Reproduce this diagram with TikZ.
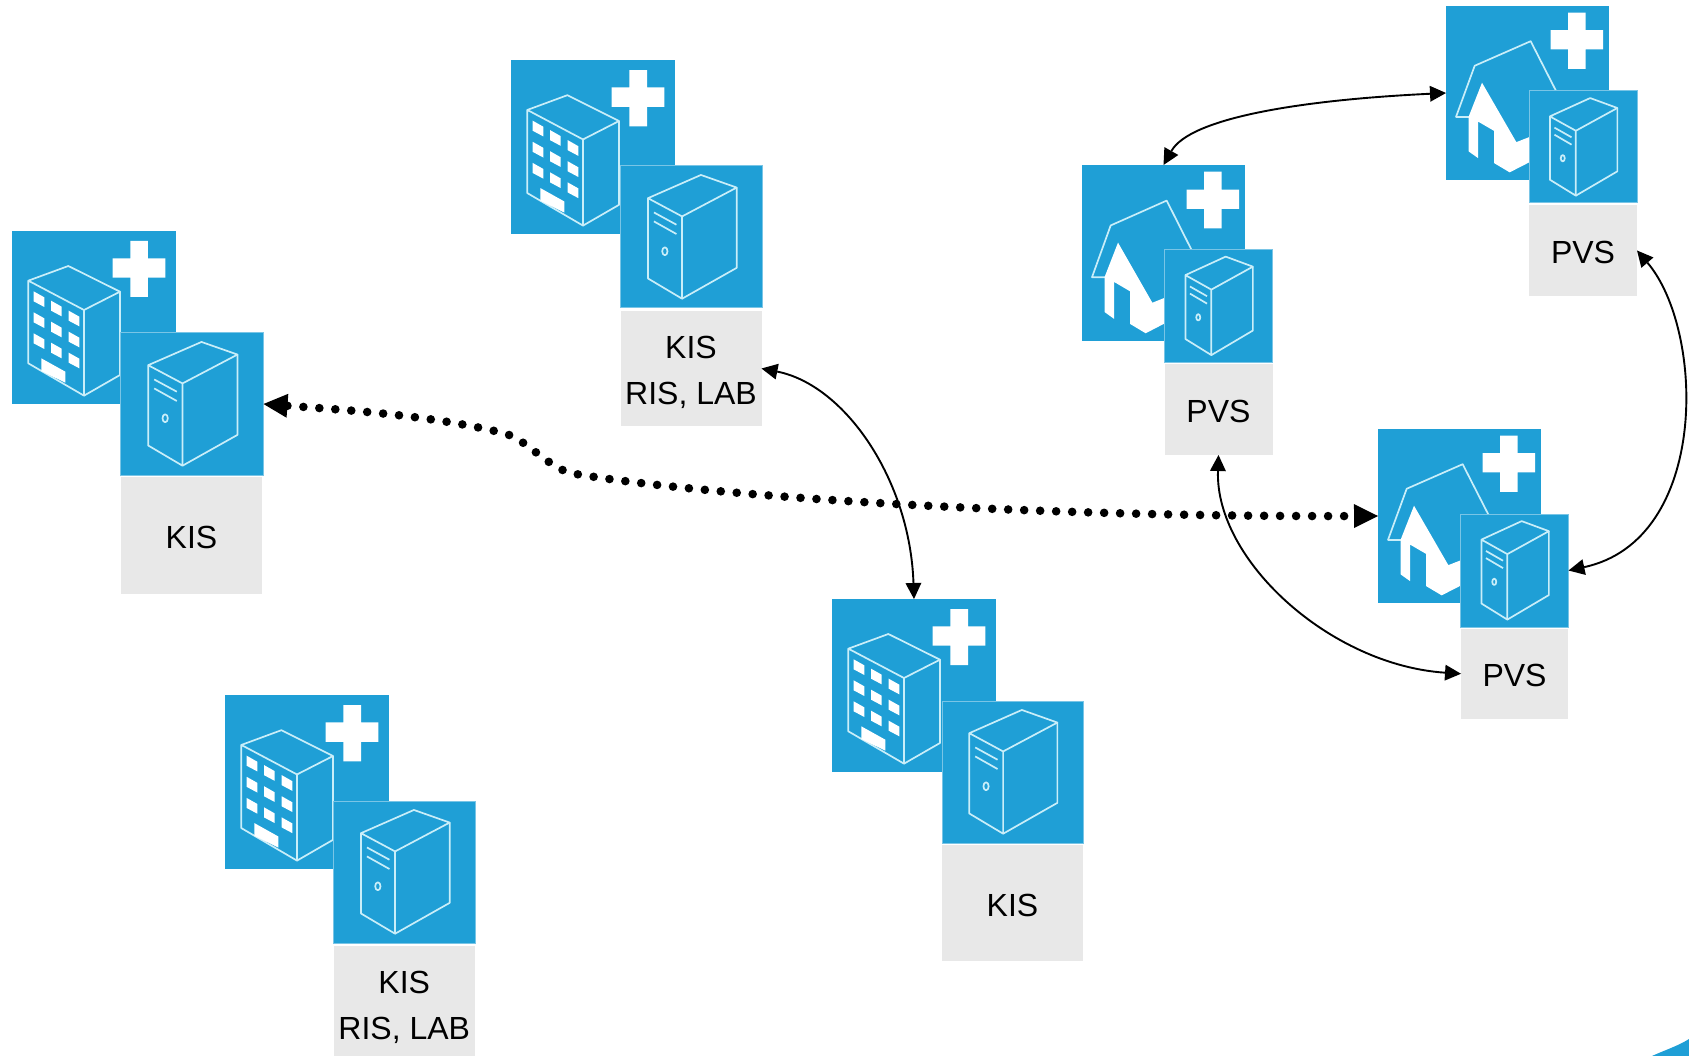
\documentclass[tikz,border=0pt]{standalone}
\usepackage{fontspec}
\setmainfont{Liberation Sans}
\usetikzlibrary{arrows.meta}
\definecolor{iconblue}{HTML}{1F9FD6}
\definecolor{iconline}{HTML}{C9EEF9}
\definecolor{labelgrey}{HTML}{E8E8E8}
\tikzset{
  blueblock/.style={fill=iconblue,draw=none,inner sep=0pt,outer sep=0pt,anchor=north west},
  serverblock/.style={fill=iconblue,draw=iconblue!60!white,line width=1pt,inner sep=0pt,outer sep=0pt,anchor=north west},
  greyblock/.style={fill=labelgrey,draw=none,inner sep=0pt,outer sep=0pt,anchor=north west},
  labeltext/.style={inner sep=0pt,font=\fontsize{32}{46}\selectfont,align=center,text=black},
  iconstroke/.style={draw=iconline,line width=1.7pt,line join=round},
  iconfill/.style={fill=white,draw=none},
  link/.style={black,line width=1.9pt,{Triangle[length=16pt,width=16pt,line width=0pt]}-{Triangle[length=16pt,width=16pt,line width=0pt]}},
  dotlink/.style={black,line width=8.6pt,line cap=round,dash pattern=on 0pt off 16pt,{Triangle[length=24pt,width=24pt,line width=0pt]}-{Triangle[length=24pt,width=24pt,line width=0pt]}}
}
\newcommand{\hospitalblock}[5]{%
  \node[blueblock,minimum width=#4pt,minimum height=#5pt] (#1) at (#2,#3) {};
  \begin{scope}[shift={(#1.north west)}]
    \pgfmathsetmacro{\hsx}{#4/492}\pgfmathsetmacro{\hsy}{#5/519}
    \begin{scope}[x=\hsx pt,y=-\hsy pt]
      \fill[iconfill] (355,30)--(408,30)--(408,82)--(460,82)--(460,140)--(408,140)--(408,198)--(355,198)--(355,140)--(302,140)--(302,82)--(355,82)--cycle;
      \draw[iconstroke] (49,149)--(169,105)--(324,182)--(216,237)--(49,149)--(49,397)--(216,494)--(216,237);
      \draw[iconstroke] (324,182)--(324,432)--(216,494);
      \foreach \cx/\cy in {0/0,52/28,105/58,0/63,52/91,105/121,0/126,52/154,105/184}{
        \fill[iconfill] (65+\cx,181+\cy)--(97+\cx,199+\cy)--(97+\cx,228+\cy)--(65+\cx,211+\cy)--cycle;}
      \fill[iconfill] (88,382)--(160,422)--(160,455)--(88,420)--cycle;
    \end{scope}
  \end{scope}}
\newcommand{\houseblock}[5]{%
  \node[blueblock,minimum width=#4pt,minimum height=#5pt] (#1) at (#2,#3) {};
  \begin{scope}[shift={(#1.north west)}]
    \pgfmathsetmacro{\hsx}{#4/489}\pgfmathsetmacro{\hsy}{#5/524}
    \begin{scope}[x=\hsx pt,y=-\hsy pt]
      \fill[iconfill] (366,20)--(419,20)--(419,73)--(471,73)--(471,131)--(419,131)--(419,189)--(366,189)--(366,131)--(314,131)--(314,73)--(366,73)--cycle;
      \draw[iconstroke] (71,334)--(30,334)--(86,180)--(254,106)--(345,285);
      \fill[iconfill] (108,231)--(68,333)--(68,438)--(96,458)--(96,348)--(144,376)--(144,473)--(191,501)--(300,445)--(300,375)--(211,410)--cycle;
    \end{scope}
  \end{scope}}
\newcommand{\serverblock}[5]{%
  \node[serverblock,minimum width=#4pt,minimum height=#5pt] (#1) at (#2,#3) {};
  \begin{scope}[shift={(#1.north west)}]
    \pgfmathsetmacro{\ssx}{#4/429}\pgfmathsetmacro{\ssy}{#5/428}
    \begin{scope}[x=\ssx pt,y=-\ssy pt]
      \draw[iconstroke] (83,97)--(243,27)--(351,65)--(186,152)--(83,97)--(83,339)--(186,400)--(186,152);
      \draw[iconstroke] (351,65)--(351,307)--(186,400);
      \draw[iconstroke] (101,140)--(169,177) (101,167)--(169,205);
      \draw[iconstroke] (134,257) ellipse [x radius=8,y radius=12];
    \end{scope}
  \end{scope}}
\newcommand{\labelblock}[7]{%
  \node[greyblock,minimum width=#4pt,minimum height=#5pt] (#1) at (#2,#3) {};
  \node[labeltext,yshift=#7pt] (#1text) at (#1.center) {#6};}
\begin{document}
\begin{tikzpicture}[x=1pt,y=-1pt]
\useasboundingbox (0,0) rectangle (1689,1056);
\fill[white] (0,0) rectangle (1689,1056);
% hospitals
\hospitalblock{hospA}{12}{231}{164}{173}
\serverblock{srvA}{120.5}{333}{143}{142}
\labelblock{lblA}{121}{477}{141}{117}{KIS}{-1.5}
\hospitalblock{hospB}{511}{60}{164}{174}
\serverblock{srvB}{620.5}{166}{142}{142}
\labelblock{lblB}{620.5}{311}{141}{115}{KIS\\RIS, LAB}{-3.5}
\hospitalblock{hospC}{225}{695}{164}{174}
\serverblock{srvC}{333.5}{801}{142}{142}
\labelblock{lblC}{334}{946}{140.5}{110}{KIS\\RIS, LAB}{-6.5}
\hospitalblock{hospD}{832}{599}{164}{173}
\serverblock{srvD}{942}{701}{141}{142}
\labelblock{lblD}{942}{845}{141}{116}{KIS}{-2.5}
% houses
\houseblock{hsA}{1082}{165}{163}{176}
\serverblock{srvE}{1164.5}{249.5}{108}{113}
\labelblock{lblE}{1164.5}{364}{108}{91}{PVS}{-1.5}
\houseblock{hsB}{1446}{6}{163}{174}
\serverblock{srvF}{1529}{91}{108}{112}
\labelblock{lblF}{1529}{205}{108}{91}{PVS}{-1.5}
\houseblock{hsC}{1378}{429}{163}{174}
\serverblock{srvG}{1460.5}{514}{108}{113}
\labelblock{lblG}{1461}{629}{107}{89.5}{PVS}{-1.5}
% connectors
\draw[dotlink] (srvA.east) .. controls (345,410) and (430,415) .. (503,433) .. controls (525,438) and (545,465) .. (570,473) .. controls (690,494) and (1000,517) .. (hsC.west);
\draw[link] (lblB.east) .. controls (845,385) and (910,480) .. (hospD.north);
\draw[link] (hsA.north) .. controls (1190,118) and (1300,100) .. (hsB.west);
\draw[link] (lblF.east) .. controls (1705,330) and (1710,540) .. (srvG.east);
\draw[link] (lblE.south) .. controls (1215,560) and (1330,665) .. (lblG.west);
% corner swoosh
\fill[iconblue] (1652,1056) .. controls (1665,1050) and (1678,1046) .. (1689,1039) -- (1689,1056) -- cycle;
\end{tikzpicture}
\end{document}
